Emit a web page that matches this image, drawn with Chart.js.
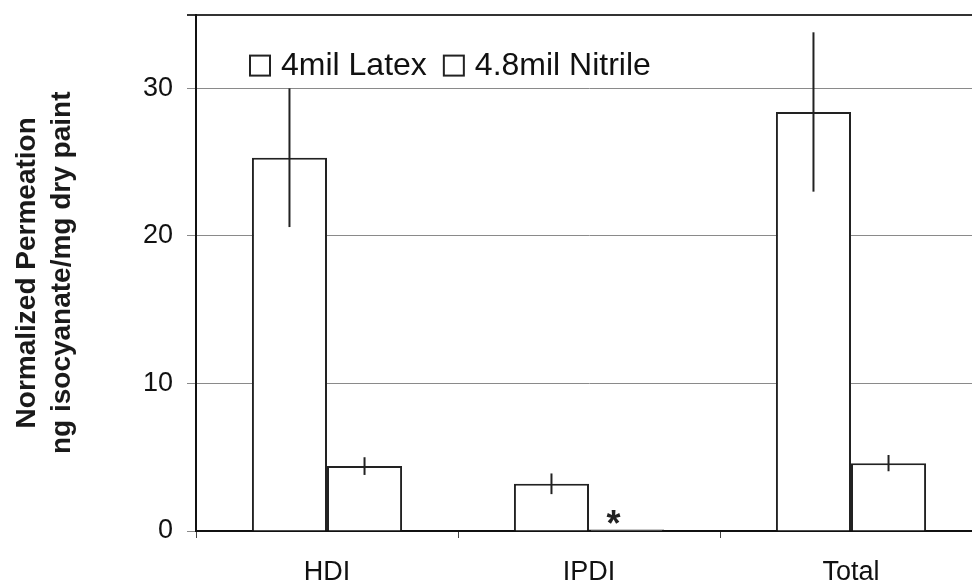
<!DOCTYPE html>
<html>
<head>
<meta charset="utf-8">
<title>Normalized Permeation</title>
<script src="https://cdn.jsdelivr.net/npm/chart.js@4/dist/chart.umd.min.js"></script>
<style>
  html, body { margin: 0; padding: 0; background: #fff; overflow: hidden; }
  #wrap { width: 1000px; height: 587px; }
</style>
</head>
<body>
<div id="wrap"><canvas id="chart" width="1000" height="587"></canvas></div>
<script>
/* ---------- data ---------- */
const categories = ["HDI", "IPDI", "Total"];
const seriesNames = ["4mil Latex", "4.8mil Nitrile"];
const latexValues = [25.3, 3.2, 28.4];
const latexErrors = [4.7, 0.7, 5.4];
const nitrileValues = [4.4, 0.1, 4.6];
const nitrileErrors = [0.6, 0, 0.55];
const yTicks = [0, 10, 20, 30];
const yMax = 35;
const markedBars = [{ dataset: 1, index: 1, text: "*" }];

const FONT = "'Liberation Sans', Arial, Helvetica, sans-serif";

/* ---------- error bars + asterisk ---------- */
const errorBars = {
    id: "errorBars",
    afterDatasetsDraw(chart) {
        const ctx = chart.ctx;
        const y = chart.scales.y;
        ctx.save();
        ctx.strokeStyle = "#222";
        ctx.lineWidth = 2;
        chart.data.datasets.forEach((ds, i) => {
            const meta = chart.getDatasetMeta(i);
            meta.data.forEach((bar, j) => {
                const err = ds.errors[j];
                if (!err) return;
                const v = ds.data[j];
                ctx.beginPath();
                ctx.moveTo(bar.x, y.getPixelForValue(v + err));
                ctx.lineTo(bar.x, y.getPixelForValue(v - err));
                ctx.stroke();
            });
        });
        ctx.fillStyle = "#222";
        ctx.font = "bold 36px " + FONT;
        ctx.textAlign = "center";
        ctx.textBaseline = "middle";
        markedBars.forEach(m => {
            const bar = chart.getDatasetMeta(m.dataset).data[m.index];
            ctx.fillText(m.text, bar.x - 13, bar.y - 3);
        });
        ctx.restore();
    }
};

/* ---------- legend inside the plot ---------- */
const innerLegend = {
    id: "innerLegend",
    afterDraw(chart) {
        const ctx = chart.ctx;
        const area = chart.chartArea;
        let x = area.left + 54;
        const cy = area.top + 51;
        const box = 20;
        ctx.save();
        ctx.font = "32px " + FONT;
        ctx.textBaseline = "middle";
        ctx.textAlign = "left";
        ctx.strokeStyle = "#222";
        ctx.fillStyle = "#111";
        ctx.lineWidth = 2;
        chart.data.datasets.forEach(ds => {
            ctx.strokeRect(x, cy - box / 2, box, box);
            x += box + 11;
            ctx.fillText(ds.label, x, cy + 1);
            x += ctx.measureText(ds.label).width + 17;
        });
        ctx.restore();
    }
};

new Chart(document.getElementById("chart"), {
    type: "bar",
    data: {
        labels: categories,
        datasets: [
            {
                label: seriesNames[0],
                data: latexValues,
                errors: latexErrors,
                backgroundColor: "#fff",
                borderColor: "#222",
                borderWidth: 2
            },
            {
                label: seriesNames[1],
                data: nitrileValues,
                errors: nitrileErrors,
                backgroundColor: "#fff",
                borderColor: "#222",
                borderWidth: 2
            }
        ]
    },
    options: {
        responsive: false,
        animation: false,
        events: [],
        layout: { padding: { top: 10, right: 18, left: 0, bottom: 0 } },
        datasets: {
            bar: { categoryPercentage: 0.573, barPercentage: 1.0 }
        },
        plugins: {
            legend: { display: false },
            tooltip: { enabled: false }
        },
        scales: {
            x: {
                afterFit(s) { s.height = 56; },
                grid: {
                    display: true,
                    drawOnChartArea: false,
                    offset: true,
                    tickLength: 7,
                    color: "#444",
                    lineWidth: 1
                },
                border: { color: "#111", width: 2 },
                ticks: {
                    color: "#111",
                    padding: 18,
                    font: { family: FONT, size: 27 }
                }
            },
            y: {
                min: 0,
                max: yMax,
                afterFit(s) { s.width = 196; },
                afterBuildTicks(s) {
                    s.ticks = yTicks.concat([yMax]).map(v => ({ value: v }));
                },
                grid: {
                    tickLength: 9,
                    color: c => (c.tick && c.tick.value === yMax ? "#333" : "#8a8a8a"),
                    lineWidth: c => (c.tick && c.tick.value === yMax ? 2 : 1)
                },
                border: { color: "#111", width: 2 },
                ticks: {
                    color: "#111",
                    padding: 14,
                    font: c => ({ family: FONT, size: c.tick && c.tick.value === yMax ? 1 : 27 }),
                    callback: v => (yTicks.includes(v) ? v : "")
                },
                title: {
                    display: true,
                    text: ["Normalized Permeation", "ng isocyanate/mg dry paint"],
                    color: "#1a1a1a",
                    font: { family: FONT, size: 28, weight: "bold", lineHeight: 1.25 },
                    padding: { top: 10, bottom: 0 }
                }
            }
        }
    },
    plugins: [errorBars, innerLegend]
});
</script>
</body>
</html>
